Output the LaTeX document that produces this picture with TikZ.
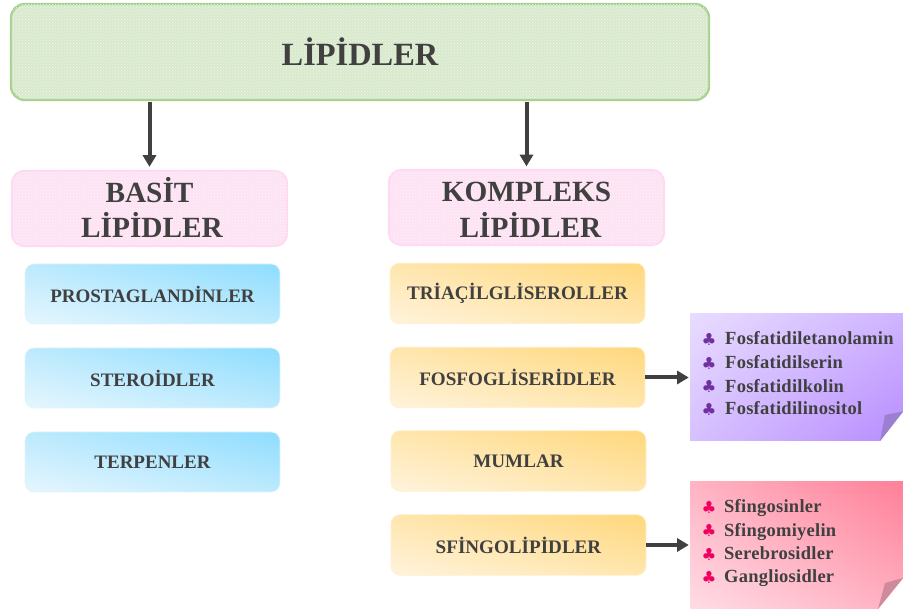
\documentclass[tikz,border=0pt]{standalone}
\usepackage{fontspec}
\setmainfont{Liberation Serif}
\newfontfamily\symfont{DejaVu Sans}
\newfontfamily\spacedfont[LetterSpace=1.4,BoldFont={Liberation Serif Bold}]{Liberation Serif}
\usetikzlibrary{arrows.meta,shadings,patterns}
\definecolor{txt}{HTML}{404040}
\tikzset{
  x=1pt,y=-1pt,
  box/.style={inner sep=0pt,align=center,text=txt,font=\bfseries},
  maintop/.style={box,rounded corners=14pt,draw=GreenB,line width=2.4pt,fill=GreenF,postaction={pattern=crosshatch dots,pattern color=white!60!GreenF},minimum width=698pt,minimum height=96pt,font=\bfseries\fontsize{32.4}{38}\selectfont},
  head/.style={box,rounded corners=12pt,draw=PinkB,line width=2.2pt,fill=PinkF,postaction={pattern=crosshatch dots,pattern color=white!70!PinkF},minimum width=275pt,minimum height=75pt,font=\bfseries\fontsize{29.3}{35.5}\selectfont},
  bluebox/.style={box,rounded corners=9pt,draw=BlueB,line width=.6pt,shading=bilinear interpolation,lower left=BlueL,upper right=BlueD,upper left=BlueM,lower right=BlueM,minimum width=255pt,minimum height=60pt,font=\bfseries\fontsize{19}{22}\selectfont},
  orangebox/.style={box,rounded corners=9pt,draw=OrB,line width=.6pt,shading=bilinear interpolation,lower left=OrL,upper right=OrD,upper left=OrM,lower right=OrM,minimum width=255pt,minimum height=60.5pt,font=\bfseries\fontsize{19.1}{22}\selectfont},
  purplenote/.style={inner sep=0pt,shading=bilinear interpolation,upper left=PuL,lower right=PuD,lower left=PuM,upper right=PuN,minimum width=213pt,minimum height=127pt},
  rednote/.style={inner sep=0pt,shading=bilinear interpolation,lower left=ReL,upper right=ReD,upper left=ReM,lower right=ReN,minimum width=213pt,minimum height=127pt},
  item/.style={anchor=west,inner sep=0pt,text=txt,font=\spacedfont\bfseries\fontsize{18.5}{20}\selectfont,text height=12pt,text depth=0pt},
  club/.style={anchor=center,inner sep=0pt,font=\symfont\fontsize{16.5}{18}\selectfont},
  link/.style={draw=txt,line width=4pt,-{Triangle[length=11.7pt,width=13pt]}},
}
\definecolor{GreenB}{HTML}{A9D18E}
\definecolor{GreenF}{HTML}{D9E9CD}
\definecolor{PinkB}{HTML}{FFD9F2}
\definecolor{PinkF}{HTML}{FDE2F3}
\definecolor{BlueB}{HTML}{DDF3FD}
\definecolor{BlueL}{HTML}{E6F6FE}
\definecolor{BlueM}{HTML}{BCEAFD}
\definecolor{BlueD}{HTML}{8EDDFF}
\definecolor{OrB}{HTML}{FFF0D0}
\definecolor{OrL}{HTML}{FFF3DC}
\definecolor{OrM}{HTML}{FFE6AE}
\definecolor{OrD}{HTML}{FFD87C}
\definecolor{PuL}{HTML}{E8DCFF}
\definecolor{PuM}{HTML}{D6C0FF}
\definecolor{PuN}{HTML}{CFB4FF}
\definecolor{PuD}{HTML}{B88CFF}
\definecolor{ReL}{HTML}{FFDCE5}
\definecolor{ReM}{HTML}{FFB4C4}
\definecolor{ReN}{HTML}{FFB0C2}
\definecolor{ReD}{HTML}{FF8098}
\definecolor{PuC}{HTML}{7030A0}
\definecolor{ReC}{HTML}{F0005F}
\definecolor{PuF}{HTML}{9B80CF}
\definecolor{ReF}{HTML}{CF8A9E}
\begin{document}
\begin{tikzpicture}
\useasboundingbox (0,0) rectangle (903,609);
\node[maintop] (lipid) at (360,52) {LİPİDLER};
\node[head] (basit) at (149.5,208.5) {\raisebox{1.5pt}{BASİT}\\\hspace*{5pt}\raisebox{2.5pt}{LİPİDLER}};
\node[head] (komp) at (526.5,207.5) {\rule{0pt}{24pt}KOMPLEKS\\\hspace*{8pt}LİPİDLER};
\node[bluebox] (b1) at (152.5,294) {PROSTAGLANDİNLER};
\node[bluebox] (b2) at (152.5,378) {STEROİDLER};
\node[bluebox] (b3) at (152.5,462) {TERPENLER};
\node[orangebox] (o1) at (517.5,293.5) {TRİAÇİLGLİSEROLLER};
\node[orangebox] (o2) at (517.5,377.5) {FOSFOGLİSERİDLER};
\node[orangebox] (o3) at (518.5,461) {MUMLAR};
\node[orangebox] (o4) at (518.5,545) {SFİNGOLİPİDLER};
% notes
\node[purplenote] (n1) at (796.5,377.5) {};
\fill[white] (880,441.5) -- (903.5,441.5) -- (903.5,411.5) -- cycle;
\fill[PuF] (880,441) -- (885,415) -- (903,411.5) -- cycle;
\node[rednote] (n2) at (796.5,545.5) {};
\fill[white] (878,609.5) -- (903.5,609.5) -- (903.5,578) -- cycle;
\fill[ReF] (878,609) -- (885,583) -- (903,578) -- cycle;
% items
\node[club,text=PuC] (c1) at (709,339) {♣};
\node[item] (t1) at (725,339) {Fosfatidiletanolamin};
\node[club,text=PuC] (c2) at (709,363) {♣};
\node[item] (t2) at (725,363) {Fosfatidilserin};
\node[club,text=PuC] (c3) at (709,386.5) {♣};
\node[item] (t3) at (725,386.5) {Fosfatidilkolin};
\node[club,text=PuC] (c4) at (709,409) {♣};
\node[item] (t4) at (725,409) {Fosfatidilinositol};
\node[club,text=ReC] (c5) at (709,507) {♣};
\node[item] (t5) at (724,507) {Sfingosinler};
\node[club,text=ReC] (c6) at (709,530.5) {♣};
\node[item] (t6) at (724,530.5) {Sfingomiyelin};
\node[club,text=ReC] (c7) at (709,554) {♣};
\node[item] (t7) at (724,554) {Serebrosidler};
\node[club,text=ReC] (c8) at (709,577) {♣};
\node[item] (t8) at (724,577) {Gangliosidler};
% connectors
\draw[link,xshift=-1pt,shorten <=.8pt,shorten >=3pt] (lipid.south -| basit.north) -- (basit.north);
\draw[link,xshift=-.7pt,shorten <=.8pt,shorten >=2.5pt] (lipid.south -| komp.north) -- (komp.north);
\draw[link,shorten >=1pt] (o2.east) -- (o2.east -| n1.west);
\draw[link,shorten >=1pt] (o4.east) -- (o4.east -| n2.west);
\end{tikzpicture}
\end{document}
